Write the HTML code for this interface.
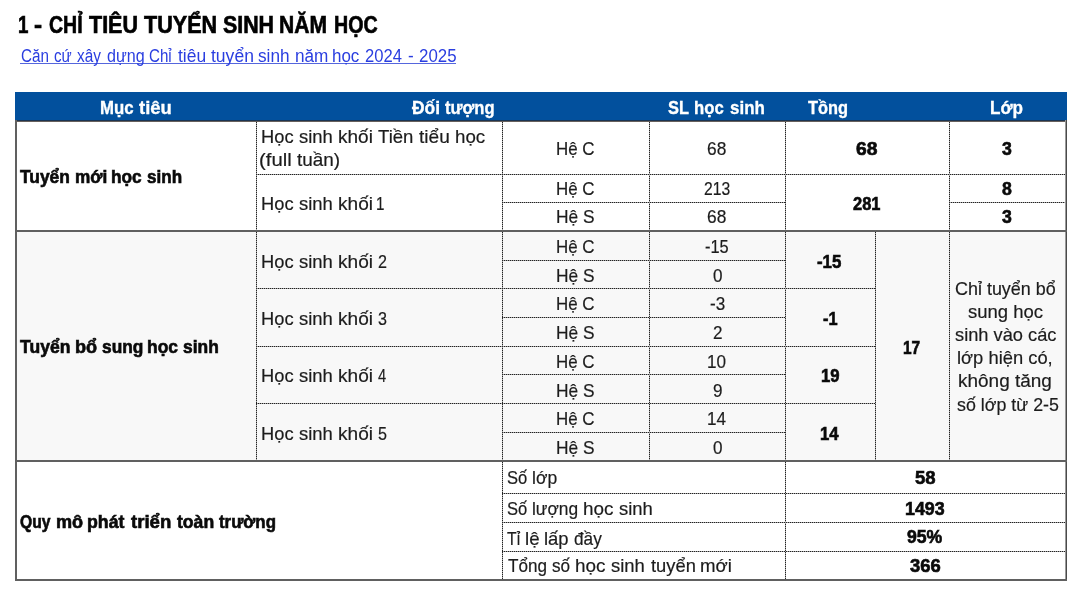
<!DOCTYPE html>
<html><head><meta charset="utf-8"><style>
html,body{margin:0;padding:0;background:#fff;}
body{width:1073px;height:607px;overflow:hidden;position:relative;font-family:"Liberation Sans",sans-serif;color:#1c1c1c;}
.t{position:absolute;white-space:nowrap;transform-origin:0 0;-webkit-text-stroke:0.2px currentColor;}
.r{position:absolute;}
.hd{position:absolute;height:1px;background:repeating-linear-gradient(90deg,#222 0 1px,#a4a4a4 1px 2px);}
.vd{position:absolute;width:1px;background:repeating-linear-gradient(180deg,#222 0 1px,#a4a4a4 1px 2px);}
#w{position:absolute;left:0;top:0;width:1073px;height:607px;background:#fff;filter:blur(0.35px);}
</style></head><body><div id="w">
<div class="r" style="left:15px;top:92px;width:1052px;height:28px;background:#02509d"></div>
<div class="r" style="left:15px;top:232px;width:1051px;height:229px;background:#f8f8f8"></div>
<div class="vd" style="left:256px;top:122px;height:338px"></div>
<div class="vd" style="left:502px;top:122px;height:457px"></div>
<div class="vd" style="left:649px;top:122px;height:338px"></div>
<div class="vd" style="left:785px;top:122px;height:457px"></div>
<div class="vd" style="left:875px;top:232px;height:228px"></div>
<div class="vd" style="left:949px;top:122px;height:338px"></div>
<div class="hd" style="left:256px;top:174px;width:809px"></div>
<div class="hd" style="left:502px;top:202px;width:283px"></div>
<div class="hd" style="left:949px;top:202px;width:116px"></div>
<div class="hd" style="left:502px;top:260px;width:283px"></div>
<div class="hd" style="left:502px;top:317px;width:283px"></div>
<div class="hd" style="left:502px;top:374px;width:283px"></div>
<div class="hd" style="left:502px;top:432px;width:283px"></div>
<div class="hd" style="left:256px;top:288px;width:619px"></div>
<div class="hd" style="left:256px;top:346px;width:619px"></div>
<div class="hd" style="left:256px;top:403px;width:619px"></div>
<div class="hd" style="left:502px;top:493px;width:563px"></div>
<div class="hd" style="left:502px;top:522px;width:563px"></div>
<div class="hd" style="left:502px;top:551px;width:563px"></div>
<div class="r" style="left:15px;top:120px;width:1052px;height:1px;background:#1a3452"></div>
<div class="r" style="left:15px;top:121px;width:1052px;height:1px;background:#67605c"></div>
<div class="r" style="left:15px;top:120px;width:2px;height:461px;background:#606060"></div>
<div class="r" style="left:1065px;top:120px;width:1px;height:461px;background:#9a9a9a"></div>
<div class="r" style="left:1066px;top:120px;width:1px;height:461px;background:#4a4a4a"></div>
<div class="r" style="left:15px;top:579px;width:1052px;height:2px;background:#606060"></div>
<div class="r" style="left:15px;top:230px;width:1052px;height:2px;background:#606060"></div>
<div class="r" style="left:15px;top:460px;width:1052px;height:2px;background:#606060"></div>
<div class="r" style="left:20px;top:63px;width:436px;height:1px;background:#5566dd"></div>
<span class="t" style="left:33.90px;top:13px;font-size:24px;line-height:24px;transform:scaleX(1.0125);font-weight:bold;-webkit-text-stroke:0.65px currentColor;color:#000;">-</span>
<span class="t" style="left:48.60px;top:13px;font-size:24px;line-height:24px;transform:scaleX(0.8137);font-weight:bold;-webkit-text-stroke:0.65px currentColor;color:#000;">CHỈ</span>
<span class="t" style="left:89.20px;top:13px;font-size:24px;line-height:24px;transform:scaleX(0.8962);font-weight:bold;-webkit-text-stroke:0.65px currentColor;color:#000;">TIÊU</span>
<span class="t" style="left:144.00px;top:13px;font-size:24px;line-height:24px;transform:scaleX(0.8987);font-weight:bold;-webkit-text-stroke:0.65px currentColor;color:#000;">TUYỂN</span>
<span class="t" style="left:222.70px;top:13px;font-size:24px;line-height:24px;transform:scaleX(0.8892);font-weight:bold;-webkit-text-stroke:0.65px currentColor;color:#000;">SINH</span>
<span class="t" style="left:279.22px;top:13px;font-size:24px;line-height:24px;transform:scaleX(0.8773);font-weight:bold;-webkit-text-stroke:0.65px currentColor;color:#000;">NĂM</span>
<span class="t" style="left:333.68px;top:13px;font-size:24px;line-height:24px;transform:scaleX(0.8173);font-weight:bold;-webkit-text-stroke:0.65px currentColor;color:#000;">HỌC</span>
<span class="t" style="left:18.34px;top:13px;font-size:24px;line-height:24px;transform:scaleX(0.7800);font-weight:bold;-webkit-text-stroke:0.65px currentColor;color:#000;">1</span>
<span class="t" style="left:20.90px;top:47px;font-size:18px;line-height:18px;transform:scaleX(0.8466);-webkit-text-stroke:0;color:#2a3ee0;">Căn</span>
<span class="t" style="left:54.00px;top:47px;font-size:18px;line-height:18px;transform:scaleX(0.8429);-webkit-text-stroke:0;color:#2a3ee0;">cứ</span>
<span class="t" style="left:76.70px;top:47px;font-size:18px;line-height:18px;transform:scaleX(0.8532);-webkit-text-stroke:0;color:#2a3ee0;">xây</span>
<span class="t" style="left:106.50px;top:47px;font-size:18px;line-height:18px;transform:scaleX(0.8936);-webkit-text-stroke:0;color:#2a3ee0;">dựng</span>
<span class="t" style="left:149.00px;top:47px;font-size:18px;line-height:18px;transform:scaleX(0.8404);-webkit-text-stroke:0;color:#2a3ee0;">Chỉ</span>
<span class="t" style="left:178.00px;top:47px;font-size:18px;line-height:18px;transform:scaleX(0.9711);-webkit-text-stroke:0;color:#2a3ee0;">tiêu</span>
<span class="t" style="left:211.10px;top:47px;font-size:18px;line-height:18px;transform:scaleX(0.9739);-webkit-text-stroke:0;color:#2a3ee0;">tuyển</span>
<span class="t" style="left:258.40px;top:47px;font-size:18px;line-height:18px;transform:scaleX(0.9560);-webkit-text-stroke:0;color:#2a3ee0;">sinh</span>
<span class="t" style="left:294.75px;top:47px;font-size:18px;line-height:18px;transform:scaleX(0.9539);-webkit-text-stroke:0;color:#2a3ee0;">năm</span>
<span class="t" style="left:332.06px;top:47px;font-size:18px;line-height:18px;transform:scaleX(0.9421);-webkit-text-stroke:0;color:#2a3ee0;">học</span>
<span class="t" style="left:365.10px;top:47px;font-size:18px;line-height:18px;transform:scaleX(0.9218);-webkit-text-stroke:0;color:#2a3ee0;">2024</span>
<span class="t" style="left:407.70px;top:47px;font-size:18px;line-height:18px;transform:scaleX(0.9500);-webkit-text-stroke:0;color:#2a3ee0;">-</span>
<span class="t" style="left:418.80px;top:47px;font-size:18px;line-height:18px;transform:scaleX(0.9367);-webkit-text-stroke:0;color:#2a3ee0;">2025</span>
<span class="t" style="left:99.82px;top:98px;font-size:19px;line-height:19px;transform:scaleX(0.8842);font-weight:bold;-webkit-text-stroke:0.35px currentColor;color:#fff;">Mục</span>
<span class="t" style="left:139.30px;top:98px;font-size:19px;line-height:19px;transform:scaleX(0.9707);font-weight:bold;-webkit-text-stroke:0.35px currentColor;color:#fff;">tiêu</span>
<span class="t" style="left:412.20px;top:98px;font-size:19px;line-height:19px;transform:scaleX(0.9138);font-weight:bold;-webkit-text-stroke:0.35px currentColor;color:#fff;">Đối</span>
<span class="t" style="left:444.50px;top:98px;font-size:19px;line-height:19px;transform:scaleX(0.8737);font-weight:bold;-webkit-text-stroke:0.35px currentColor;color:#fff;">tượng</span>
<span class="t" style="left:667.90px;top:98px;font-size:19px;line-height:19px;transform:scaleX(0.8633);font-weight:bold;-webkit-text-stroke:0.35px currentColor;color:#fff;">SL</span>
<span class="t" style="left:693.92px;top:98px;font-size:19px;line-height:19px;transform:scaleX(0.8792);font-weight:bold;-webkit-text-stroke:0.35px currentColor;color:#fff;">học</span>
<span class="t" style="left:730.20px;top:98px;font-size:19px;line-height:19px;transform:scaleX(0.8920);font-weight:bold;-webkit-text-stroke:0.35px currentColor;color:#fff;">sinh</span>
<span class="t" style="left:807.50px;top:98px;font-size:19px;line-height:19px;transform:scaleX(0.8621);font-weight:bold;-webkit-text-stroke:0.35px currentColor;color:#fff;">Tồng</span>
<span class="t" style="left:990.30px;top:98px;font-size:19px;line-height:19px;transform:scaleX(0.8999);font-weight:bold;-webkit-text-stroke:0.35px currentColor;color:#fff;">Lớp</span>
<span class="t" style="left:20.40px;top:167px;font-size:19px;line-height:19px;transform:scaleX(0.9141);font-weight:bold;-webkit-text-stroke:0.65px currentColor;color:#0a0a0a;">Tuyển</span>
<span class="t" style="left:75.30px;top:167px;font-size:19px;line-height:19px;transform:scaleX(0.9041);font-weight:bold;-webkit-text-stroke:0.65px currentColor;color:#0a0a0a;">mới</span>
<span class="t" style="left:110.99px;top:167px;font-size:19px;line-height:19px;transform:scaleX(0.9093);font-weight:bold;-webkit-text-stroke:0.65px currentColor;color:#0a0a0a;">học</span>
<span class="t" style="left:147.40px;top:167px;font-size:19px;line-height:19px;transform:scaleX(0.8972);font-weight:bold;-webkit-text-stroke:0.65px currentColor;color:#0a0a0a;">sinh</span>
<span class="t" style="left:261.04px;top:127px;font-size:19px;line-height:19px;transform:scaleX(0.9632);">Học</span>
<span class="t" style="left:298.90px;top:127px;font-size:19px;line-height:19px;transform:scaleX(0.9712);">sinh</span>
<span class="t" style="left:337.80px;top:127px;font-size:19px;line-height:19px;transform:scaleX(1.0020);">khối</span>
<span class="t" style="left:377.80px;top:127px;font-size:19px;line-height:19px;transform:scaleX(0.9751);">Tiền</span>
<span class="t" style="left:418.80px;top:127px;font-size:19px;line-height:19px;transform:scaleX(1.0044);">tiểu</span>
<span class="t" style="left:455.01px;top:127px;font-size:19px;line-height:19px;transform:scaleX(0.9851);">học</span>
<span class="t" style="left:258.93px;top:150px;font-size:19px;line-height:19px;transform:scaleX(1.0706);">(full</span>
<span class="t" style="left:297.10px;top:150px;font-size:19px;line-height:19px;transform:scaleX(0.9958);">tuần)</span>
<span class="t" style="left:556.11px;top:139px;font-size:19px;line-height:19px;transform:scaleX(0.8901);">Hệ C</span>
<span class="t" style="left:707.20px;top:139px;font-size:19px;line-height:19px;transform:scaleX(0.9141);">68</span>
<span class="t" style="left:856.30px;top:139px;font-size:19px;line-height:19px;transform:scaleX(1.0162);font-weight:bold;-webkit-text-stroke:0.65px currentColor;color:#0a0a0a;">68</span>
<span class="t" style="left:1002.00px;top:139px;font-size:19px;line-height:19px;transform:scaleX(0.9300);font-weight:bold;-webkit-text-stroke:0.65px currentColor;color:#0a0a0a;">3</span>
<span class="t" style="left:261.04px;top:194px;font-size:19px;line-height:19px;transform:scaleX(0.9632);">Học</span>
<span class="t" style="left:298.90px;top:194px;font-size:19px;line-height:19px;transform:scaleX(0.9712);">sinh</span>
<span class="t" style="left:337.79px;top:194px;font-size:19px;line-height:19px;transform:scaleX(1.0051);">khối</span>
<span class="t" style="left:376.40px;top:194px;font-size:19px;line-height:19px;transform:scaleX(0.8000);">1</span>
<span class="t" style="left:556.11px;top:179px;font-size:19px;line-height:19px;transform:scaleX(0.8901);">Hệ C</span>
<span class="t" style="left:704.00px;top:179px;font-size:19px;line-height:19px;transform:scaleX(0.8255);">213</span>
<span class="t" style="left:556.09px;top:207px;font-size:19px;line-height:19px;transform:scaleX(0.9121);">Hệ S</span>
<span class="t" style="left:707.20px;top:207px;font-size:19px;line-height:19px;transform:scaleX(0.9141);">68</span>
<span class="t" style="left:853.00px;top:194px;font-size:19px;line-height:19px;transform:scaleX(0.8651);font-weight:bold;-webkit-text-stroke:0.65px currentColor;color:#0a0a0a;">281</span>
<span class="t" style="left:1002.00px;top:179px;font-size:19px;line-height:19px;transform:scaleX(0.9300);font-weight:bold;-webkit-text-stroke:0.65px currentColor;color:#0a0a0a;">8</span>
<span class="t" style="left:1002.00px;top:207px;font-size:19px;line-height:19px;transform:scaleX(0.9300);font-weight:bold;-webkit-text-stroke:0.65px currentColor;color:#0a0a0a;">3</span>
<span class="t" style="left:20.40px;top:337px;font-size:19px;line-height:19px;transform:scaleX(0.9233);font-weight:bold;-webkit-text-stroke:0.65px currentColor;color:#0a0a0a;">Tuyển</span>
<span class="t" style="left:74.95px;top:337px;font-size:19px;line-height:19px;transform:scaleX(0.9534);font-weight:bold;-webkit-text-stroke:0.65px currentColor;color:#0a0a0a;">bổ</span>
<span class="t" style="left:101.80px;top:337px;font-size:19px;line-height:19px;transform:scaleX(0.9111);font-weight:bold;-webkit-text-stroke:0.65px currentColor;color:#0a0a0a;">sung</span>
<span class="t" style="left:146.78px;top:337px;font-size:19px;line-height:19px;transform:scaleX(0.9183);font-weight:bold;-webkit-text-stroke:0.65px currentColor;color:#0a0a0a;">học</span>
<span class="t" style="left:183.20px;top:337px;font-size:19px;line-height:19px;transform:scaleX(0.9154);font-weight:bold;-webkit-text-stroke:0.65px currentColor;color:#0a0a0a;">sinh</span>
<span class="t" style="left:261.04px;top:252px;font-size:19px;line-height:19px;transform:scaleX(0.9632);">Học</span>
<span class="t" style="left:298.90px;top:252px;font-size:19px;line-height:19px;transform:scaleX(0.9712);">sinh</span>
<span class="t" style="left:337.79px;top:252px;font-size:19px;line-height:19px;transform:scaleX(1.0051);">khối</span>
<span class="t" style="left:378.00px;top:252px;font-size:19px;line-height:19px;transform:scaleX(0.8500);">2</span>
<span class="t" style="left:261.04px;top:309px;font-size:19px;line-height:19px;transform:scaleX(0.9632);">Học</span>
<span class="t" style="left:298.90px;top:309px;font-size:19px;line-height:19px;transform:scaleX(0.9712);">sinh</span>
<span class="t" style="left:337.79px;top:309px;font-size:19px;line-height:19px;transform:scaleX(1.0051);">khối</span>
<span class="t" style="left:378.00px;top:309px;font-size:19px;line-height:19px;transform:scaleX(0.8500);">3</span>
<span class="t" style="left:261.04px;top:366px;font-size:19px;line-height:19px;transform:scaleX(0.9632);">Học</span>
<span class="t" style="left:298.90px;top:366px;font-size:19px;line-height:19px;transform:scaleX(0.9712);">sinh</span>
<span class="t" style="left:337.79px;top:366px;font-size:19px;line-height:19px;transform:scaleX(1.0051);">khối</span>
<span class="t" style="left:378.00px;top:366px;font-size:19px;line-height:19px;transform:scaleX(0.7727);">4</span>
<span class="t" style="left:261.04px;top:424px;font-size:19px;line-height:19px;transform:scaleX(0.9632);">Học</span>
<span class="t" style="left:298.90px;top:424px;font-size:19px;line-height:19px;transform:scaleX(0.9712);">sinh</span>
<span class="t" style="left:337.79px;top:424px;font-size:19px;line-height:19px;transform:scaleX(1.0051);">khối</span>
<span class="t" style="left:378.00px;top:424px;font-size:19px;line-height:19px;transform:scaleX(0.8500);">5</span>
<span class="t" style="left:556.11px;top:237px;font-size:19px;line-height:19px;transform:scaleX(0.8901);">Hệ C</span>
<span class="t" style="left:704.80px;top:237px;font-size:19px;line-height:19px;transform:scaleX(0.8626);">-15</span>
<span class="t" style="left:556.09px;top:266px;font-size:19px;line-height:19px;transform:scaleX(0.9121);">Hệ S</span>
<span class="t" style="left:712.50px;top:266px;font-size:19px;line-height:19px;transform:scaleX(0.9000);">0</span>
<span class="t" style="left:556.11px;top:294px;font-size:19px;line-height:19px;transform:scaleX(0.8901);">Hệ C</span>
<span class="t" style="left:709.65px;top:294px;font-size:19px;line-height:19px;transform:scaleX(0.9000);">-3</span>
<span class="t" style="left:556.09px;top:323px;font-size:19px;line-height:19px;transform:scaleX(0.9121);">Hệ S</span>
<span class="t" style="left:712.50px;top:323px;font-size:19px;line-height:19px;transform:scaleX(0.9000);">2</span>
<span class="t" style="left:556.11px;top:352px;font-size:19px;line-height:19px;transform:scaleX(0.8901);">Hệ C</span>
<span class="t" style="left:707.29px;top:352px;font-size:19px;line-height:19px;transform:scaleX(0.9000);">10</span>
<span class="t" style="left:556.09px;top:381px;font-size:19px;line-height:19px;transform:scaleX(0.9121);">Hệ S</span>
<span class="t" style="left:712.50px;top:381px;font-size:19px;line-height:19px;transform:scaleX(0.9000);">9</span>
<span class="t" style="left:556.11px;top:409px;font-size:19px;line-height:19px;transform:scaleX(0.8901);">Hệ C</span>
<span class="t" style="left:706.84px;top:409px;font-size:19px;line-height:19px;transform:scaleX(0.9000);">14</span>
<span class="t" style="left:556.09px;top:438px;font-size:19px;line-height:19px;transform:scaleX(0.9121);">Hệ S</span>
<span class="t" style="left:712.50px;top:438px;font-size:19px;line-height:19px;transform:scaleX(0.9000);">0</span>
<span class="t" style="left:817.00px;top:252px;font-size:19px;line-height:19px;transform:scaleX(0.8855);font-weight:bold;-webkit-text-stroke:0.65px currentColor;color:#0a0a0a;">-15</span>
<span class="t" style="left:822.50px;top:309px;font-size:19px;line-height:19px;transform:scaleX(0.8599);font-weight:bold;-webkit-text-stroke:0.65px currentColor;color:#0a0a0a;">-1</span>
<span class="t" style="left:820.51px;top:366px;font-size:19px;line-height:19px;transform:scaleX(0.8800);font-weight:bold;-webkit-text-stroke:0.65px currentColor;color:#0a0a0a;">19</span>
<span class="t" style="left:820.07px;top:424px;font-size:19px;line-height:19px;transform:scaleX(0.8800);font-weight:bold;-webkit-text-stroke:0.65px currentColor;color:#0a0a0a;">14</span>
<span class="t" style="left:903.19px;top:338px;font-size:19px;line-height:19px;transform:scaleX(0.8126);font-weight:bold;-webkit-text-stroke:0.65px currentColor;color:#0a0a0a;">17</span>
<span class="t" style="left:954.60px;top:279px;font-size:19px;line-height:19px;transform:scaleX(0.9443);">Chỉ tuyển bổ</span>
<span class="t" style="left:967.80px;top:302px;font-size:19px;line-height:19px;transform:scaleX(0.9737);">sung học</span>
<span class="t" style="left:954.60px;top:325px;font-size:19px;line-height:19px;transform:scaleX(0.9609);">sinh vào các</span>
<span class="t" style="left:956.83px;top:348px;font-size:19px;line-height:19px;transform:scaleX(0.9660);">lớp hiện có,</span>
<span class="t" style="left:958.00px;top:371px;font-size:19px;line-height:19px;transform:scaleX(0.9983);">không tăng</span>
<span class="t" style="left:956.80px;top:395px;font-size:19px;line-height:19px;transform:scaleX(0.9385);">số lớp từ 2-5</span>
<span class="t" style="left:20.20px;top:512px;font-size:19px;line-height:19px;transform:scaleX(0.8239);font-weight:bold;-webkit-text-stroke:0.65px currentColor;color:#0a0a0a;">Quy</span>
<span class="t" style="left:55.75px;top:512px;font-size:19px;line-height:19px;transform:scaleX(0.9519);font-weight:bold;-webkit-text-stroke:0.65px currentColor;color:#0a0a0a;">mô</span>
<span class="t" style="left:86.97px;top:512px;font-size:19px;line-height:19px;transform:scaleX(0.9327);font-weight:bold;-webkit-text-stroke:0.65px currentColor;color:#0a0a0a;">phát</span>
<span class="t" style="left:130.90px;top:512px;font-size:19px;line-height:19px;transform:scaleX(0.9786);font-weight:bold;-webkit-text-stroke:0.65px currentColor;color:#0a0a0a;">triển</span>
<span class="t" style="left:177.00px;top:512px;font-size:19px;line-height:19px;transform:scaleX(0.9266);font-weight:bold;-webkit-text-stroke:0.65px currentColor;color:#0a0a0a;">toàn</span>
<span class="t" style="left:219.20px;top:512px;font-size:19px;line-height:19px;transform:scaleX(0.8869);font-weight:bold;-webkit-text-stroke:0.65px currentColor;color:#0a0a0a;">trường</span>
<span class="t" style="left:507.00px;top:468px;font-size:19px;line-height:19px;transform:scaleX(0.8744);">Số</span>
<span class="t" style="left:532.08px;top:468px;font-size:19px;line-height:19px;transform:scaleX(0.9229);">lớp</span>
<span class="t" style="left:507.00px;top:499px;font-size:19px;line-height:19px;transform:scaleX(0.8744);">Số</span>
<span class="t" style="left:532.09px;top:499px;font-size:19px;line-height:19px;transform:scaleX(0.9129);">lượng</span>
<span class="t" style="left:582.80px;top:499px;font-size:19px;line-height:19px;transform:scaleX(0.9954);">học</span>
<span class="t" style="left:618.50px;top:499px;font-size:19px;line-height:19px;transform:scaleX(0.9712);">sinh</span>
<span class="t" style="left:507.10px;top:529px;font-size:19px;line-height:19px;transform:scaleX(0.8310);">Tỉ</span>
<span class="t" style="left:525.42px;top:529px;font-size:19px;line-height:19px;transform:scaleX(0.9833);">lệ</span>
<span class="t" style="left:544.03px;top:529px;font-size:19px;line-height:19px;transform:scaleX(0.9711);">lấp</span>
<span class="t" style="left:574.20px;top:529px;font-size:19px;line-height:19px;transform:scaleX(0.9058);">đầy</span>
<span class="t" style="left:507.50px;top:556px;font-size:19px;line-height:19px;transform:scaleX(0.9008);">Tổng</span>
<span class="t" style="left:552.20px;top:556px;font-size:19px;line-height:19px;transform:scaleX(0.9024);">số</span>
<span class="t" style="left:575.30px;top:556px;font-size:19px;line-height:19px;transform:scaleX(0.9954);">học</span>
<span class="t" style="left:611.10px;top:556px;font-size:19px;line-height:19px;transform:scaleX(0.9712);">sinh</span>
<span class="t" style="left:651.00px;top:556px;font-size:19px;line-height:19px;transform:scaleX(0.9649);">tuyển</span>
<span class="t" style="left:700.32px;top:556px;font-size:19px;line-height:19px;transform:scaleX(0.9806);">mới</span>
<span class="t" style="left:914.60px;top:468px;font-size:19px;line-height:19px;transform:scaleX(0.9724);font-weight:bold;-webkit-text-stroke:0.65px currentColor;color:#0a0a0a;">58</span>
<span class="t" style="left:904.76px;top:499px;font-size:19px;line-height:19px;transform:scaleX(0.9386);font-weight:bold;-webkit-text-stroke:0.65px currentColor;color:#0a0a0a;">1493</span>
<span class="t" style="left:906.50px;top:527px;font-size:19px;line-height:19px;transform:scaleX(0.9283);font-weight:bold;-webkit-text-stroke:0.65px currentColor;color:#0a0a0a;">95%</span>
<span class="t" style="left:910.10px;top:556px;font-size:19px;line-height:19px;transform:scaleX(0.9700);font-weight:bold;-webkit-text-stroke:0.65px currentColor;color:#0a0a0a;">366</span>
</div></body></html>
